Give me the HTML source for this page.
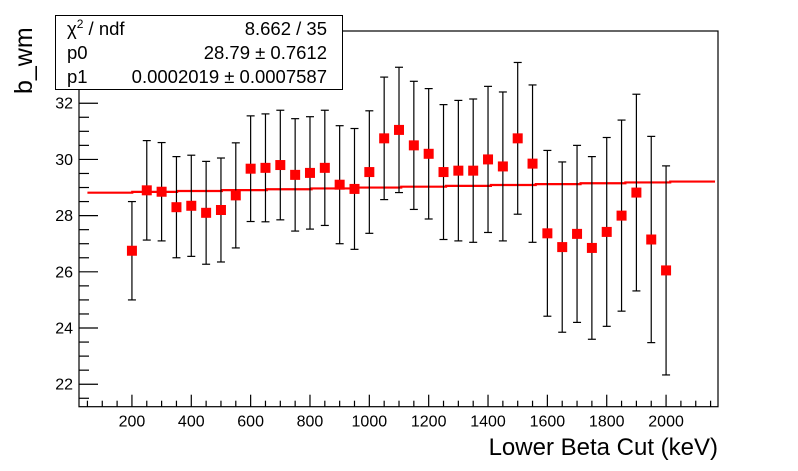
<!DOCTYPE html>
<html><head><meta charset="utf-8">
<style>
html,body{margin:0;padding:0;background:#fff;}
svg{display:block;font-family:"Liberation Sans",sans-serif;}
</style></head>
<body>
<svg id="chart" width="798" height="471" viewBox="0 0 798 471">
<rect x="0" y="0" width="798" height="471" fill="#fff"/>
<g id="axes"></g>
<g id="fitline"></g>
<g id="points"></g>
<g>
<rect x="55.5" y="15.5" width="287" height="74" fill="#fff" stroke="#000" stroke-width="1"/>
<text x="67" y="35" font-size="18.5">χ<tspan font-size="12" dy="-7">2</tspan><tspan dy="7"> / ndf</tspan></text>
<text x="327" y="35" font-size="18.5" text-anchor="end">8.662 / 35</text>
<text x="67" y="59" font-size="18.5">p0</text>
<text x="327" y="59" font-size="18.5" text-anchor="end">28.79 ± 0.7612</text>
<text x="67" y="83" font-size="18.5">p1</text>
<text x="327" y="83" font-size="18.5" text-anchor="end">0.0002019 ± 0.0007587</text>
</g>
<text x="718" y="455" font-size="24" text-anchor="end">Lower Beta Cut (keV)</text>
<text transform="translate(32,94) rotate(-90)" font-size="25" text-anchor="start">b_wm</text>
</svg>
<script>
const cuts=[200,250,300,350,400,450,500,550,600,650,700,750,800,850,900,950,1000,1050,1100,1150,1200,1250,1300,1350,1400,1450,1500,1550,1600,1650,1700,1750,1800,1850,1900,1950,2000];
const values=[26.75,28.9,28.85,28.3,28.35,28.1,28.2,28.72,29.67,29.7,29.8,29.45,29.52,29.7,29.1,28.95,29.55,30.75,31.05,30.5,30.2,29.55,29.6,29.6,30.0,29.75,30.75,29.85,27.37,26.88,27.35,26.85,27.42,28.0,28.82,27.15,26.05];
const errors=[1.75,1.77,1.75,1.8,1.8,1.83,1.85,1.87,1.88,1.92,1.95,2.0,2.0,2.05,2.1,2.15,2.18,2.18,2.23,2.28,2.32,2.4,2.5,2.55,2.6,2.65,2.7,2.8,2.95,3.03,3.15,3.25,3.36,3.4,3.5,3.67,3.72];
const yTicks=[22,24,26,28,30,32];
const xTicks=[200,400,600,800,1000,1200,1400,1600,1800,2000];
const fitP0=28.79, fitP1=0.0002019;
const X0=79,X1=718,Y0=406.7,Y1=31;
const xmin=21.6,xmax=2175,ymin=21.2,ymax=34.57;
const sx=v=>X0+(v-xmin)/(xmax-xmin)*(X1-X0);
const sy=v=>Y0-(v-ymin)/(ymax-ymin)*(Y0-Y1);
const NS='http://www.w3.org/2000/svg';
function mk(tag,attrs,parent){const e=document.createElementNS(NS,tag);for(const k in attrs)e.setAttribute(k,attrs[k]);parent.appendChild(e);return e;}
const ax=document.getElementById('axes');
const frame=mk('rect',{x:X0,y:Y1,width:X1-X0,height:Y0-Y1,fill:'none',stroke:'#000','stroke-width':1.2},ax);


for(let v=21.5;v<=34.5;v+=0.5){
  const major=Math.abs(v/2-Math.round(v/2))<1e-6;
  const t=mk('line',{x1:X0,x2:X0+(major?19:10),y1:sy(v),y2:sy(v),stroke:'#000','stroke-width':1.2},ax);
  
  
}
yTicks.forEach(v=>{
  const t=mk('text',{x:X0-6,y:sy(v)+5.5,'font-size':16,'text-anchor':'end'},ax);
  t.textContent=v;
  
  
});
for(let v=50;v<=2150;v+=50){
  const major=v%200===0;
  const t=mk('line',{x1:sx(v),x2:sx(v),y1:Y0,y2:Y0-(major?12:6),stroke:'#000','stroke-width':1.2},ax);
  
  
}
xTicks.forEach(v=>{
  const t=mk('text',{x:sx(v),y:Y0+20,'font-size':16,'text-anchor':'middle'},ax);
  t.textContent=v;
  
  
});
const fl=document.getElementById('fitline');
let d='';const steps=14;const xa=50,xb=2165;
for(let i=0;i<steps;i++){
  const a=xa+(xb-xa)*i/steps,b=xa+(xb-xa)*(i+1)/steps;
  const yv=sy(fitP0+fitP1*(a+b)/2);
  d+=(i===0?'M':'L')+sx(a)+' '+yv+' L'+sx(b)+' '+yv+' ';
}
const fp=mk('path',{d:d,fill:'none',stroke:'#f00','stroke-width':2.2},fl);


const pg=document.getElementById('points');
cuts.forEach((c,i)=>{
  const x=sx(c),yv=values[i],e=errors[i];
  const l=mk('line',{x1:x,x2:x,y1:sy(yv+e),y2:sy(yv-e),stroke:'#000','stroke-width':1.2},pg);
  
  
  [yv+e,yv-e].forEach(q=>{
    const c2=mk('line',{x1:x-4,x2:x+4,y1:sy(q),y2:sy(q),stroke:'#000','stroke-width':1.2},pg);
    
    
  });
  const r=mk('rect',{x:x-5,y:sy(yv)-5,width:10,height:10,fill:'#f00'},pg);
  
  
});
</script>
</body></html>
